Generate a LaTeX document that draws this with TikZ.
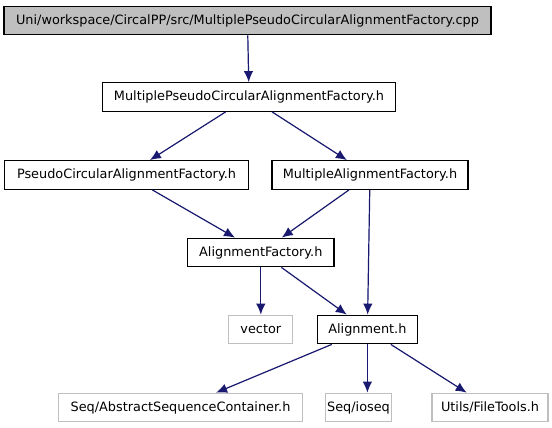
\documentclass[tikz,border=0pt]{standalone}
\usepackage{fontspec}
\setmainfont{DejaVu Sans}
\usetikzlibrary{arrows.meta}
\definecolor{edgeblue}{HTML}{191970}
\definecolor{boxgray}{HTML}{BFBFBF}
\tikzset{file/.style={draw=black,line width=1.3bp,inner sep=0pt,minimum height=28.5bp,font=\fontsize{12.9}{14}\selectfont},
 sysfile/.style={file,draw=boxgray,line width=1.2bp},
 dep/.style={-{Latex[length=11bp,width=9.5bp]},draw=edgeblue,fill=edgeblue,line width=1.2bp}}

\begin{document}
\begin{tikzpicture}[x=1bp,y=-1bp]
 \useasboundingbox (0,0) rectangle (552,427);
 \node[file,fill=boxgray,minimum width=487bp] (cpp) at (247.5,20.5) {Uni/workspace/CircalPP/src/MultiplePseudoCircularAlignmentFactory.cpp};
 \node[file,minimum width=293.5bp] (mpcaf) at (249,97) {MultiplePseudoCircularAlignmentFactory.h};
 \node[file,minimum width=244.5bp] (pcaf) at (126.5,175) {PseudoCircularAlignmentFactory.h};
 \node[file,minimum width=196bp] (maf) at (370,175) {MultipleAlignmentFactory.h};
 \node[file,minimum width=146.5bp] (af) at (260.8,252.5) {AlignmentFactory.h};
 \node[sysfile,minimum width=64bp] (vec) at (260.8,329.5) {vector};
 \node[file,minimum width=100bp] (aln) at (367.4,329.5) {Alignment.h};
 \node[sysfile,minimum width=244.4bp] (asc) at (180.5,407.5) {Seq/AbstractSequenceContainer.h};
 \node[sysfile,minimum width=66bp] (ioseq) at (358.5,407.5) {Seq/ioseq};
 \node[sysfile,minimum width=116bp] (ftools) at (490,407.5) {Utils/FileTools.h};
 \draw[dep] (cpp) -- (mpcaf);
 \draw[dep] (mpcaf) -- (pcaf);
 \draw[dep] (mpcaf) -- (maf);
 \draw[dep] (pcaf) -- (af);
 \draw[dep] (maf) -- (af);
 \draw[dep] (maf) -- (aln);
 \draw[dep] (af) -- (vec);
 \draw[dep] (af) -- (aln);
 \draw[dep] (aln) -- (asc);
 \draw[dep] (aln.south) -- (aln.south |- ioseq.north);
 \draw[dep] (aln) -- (ftools);
\end{tikzpicture}
\end{document}
